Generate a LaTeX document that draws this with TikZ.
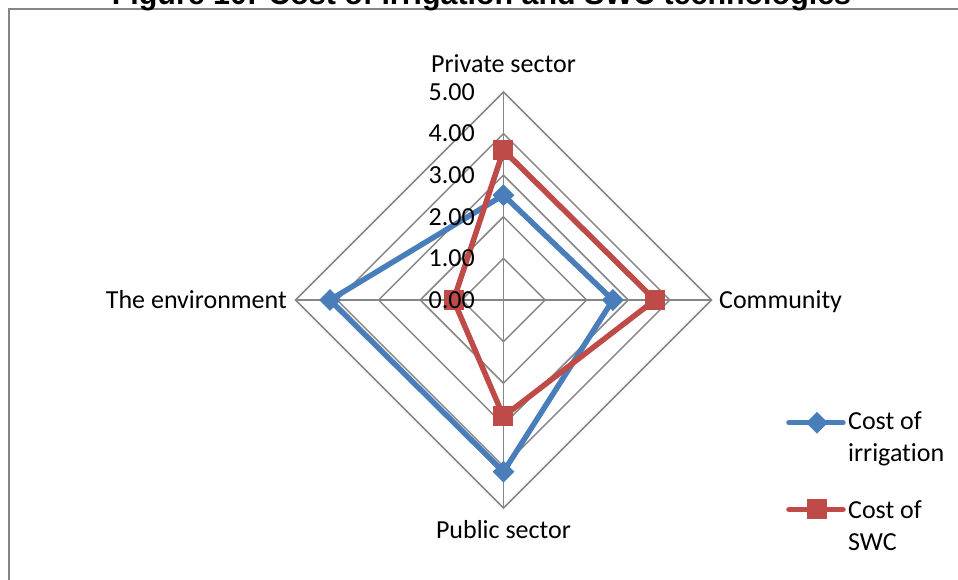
\documentclass[tikz,border=0pt]{standalone}
\usepackage{fontspec}
\setmainfont{Carlito}[Ligatures=NoCommon]
\newfontfamily\titlefont{Liberation Sans}
\usetikzlibrary{shapes.geometric}
\definecolor{gridgray}{RGB}{134,134,134}
\definecolor{irrblue}{RGB}{74,126,187}
\definecolor{swcred}{RGB}{190,75,72}
\begin{document}
\begin{tikzpicture}[x=41.6pt, y=41.6pt, font=\fontsize{26}{32}\selectfont,
  grid/.style={gridgray, line width=1.5pt},
  series/.style={line width=5.5pt, line cap=round, line join=round},
  irrmark/.style={diamond, fill=irrblue, inner sep=0, minimum size=22pt},
  swcmark/.style={rectangle, fill=swcred, inner sep=0, minimum size=20pt}]
  \useasboundingbox (-12.103,-6.7308) rectangle (10.926,7.2115);
  \draw[gridgray, line width=2pt] (-11.887,-8) |- (12,6.995);
  \node (title) [anchor=base] at (-0.529,7.115) {\titlefont\bfseries\fontsize{30.4}{36}\selectfont Figure 10: Cost of irrigation and SWC technologies};

  \foreach \r in {1,...,5}
    \draw[grid] (0:\r)--(90:\r)--(180:\r)--(270:\r)--cycle;
  \foreach \a in {0,90,180,270}
    \draw[grid] (0,0)--(\a:5);

  \coordinate (i1) at (90:2.52);  \coordinate (i2) at (0:2.63);
  \coordinate (i3) at (270:4.13); \coordinate (i4) at (180:4.17);
  \coordinate (s1) at (90:3.6);   \coordinate (s2) at (0:3.64);
  \coordinate (s3) at (270:2.8);  \coordinate (s4) at (180:1.2);

  \draw[series, irrblue] (i1)--(i2)--(i3)--(i4)--cycle;
  \foreach \p in {i1,i2,i3,i4} \node[irrmark] at (\p) {};
  \draw[series, swcred] (s1)--(s2)--(s3)--(s4)--cycle;
  \foreach \p in {s1,s2,s3,s4} \node[swcmark] at (\p) {};

  \node (priv) [anchor=base] at (0,5.464) {Private sector};
  \node (comm) [anchor=base west, inner sep=0] at (5.18,-0.204) {Community};
  \node (env) [anchor=base east, inner sep=0] at (-5.204,-0.204) {The environment};
  \node (pub) [anchor=base] at (0,-5.745) {Public sector};
  \foreach \v in {0,...,5}
    \node (v\v) [anchor=east, inner sep=0] at (-0.685,\v) {\v.00};

  % legend
  \coordinate (la) at (6.863,-2.95); \coordinate (lb) at (8.161,-2.95);
  \draw[series, irrblue] (la)--(lb);
  \node[irrmark] (lirr) at (7.536,-2.95) {};
  \node (tirr) [anchor=base west, inner sep=0, align=left] at (8.281,-3.894) {Cost of\\irrigation};
  \coordinate (lc) at (6.863,-5.036); \coordinate (ld) at (8.161,-5.036);
  \draw[series, swcred] (lc)--(ld);
  \node[swcmark] (lswc) at (7.536,-5.036) {};
  \node (tswc) [anchor=base west, inner sep=0, align=left] at (8.281,-6.033) {Cost of\\SWC};
\end{tikzpicture}
\end{document}
